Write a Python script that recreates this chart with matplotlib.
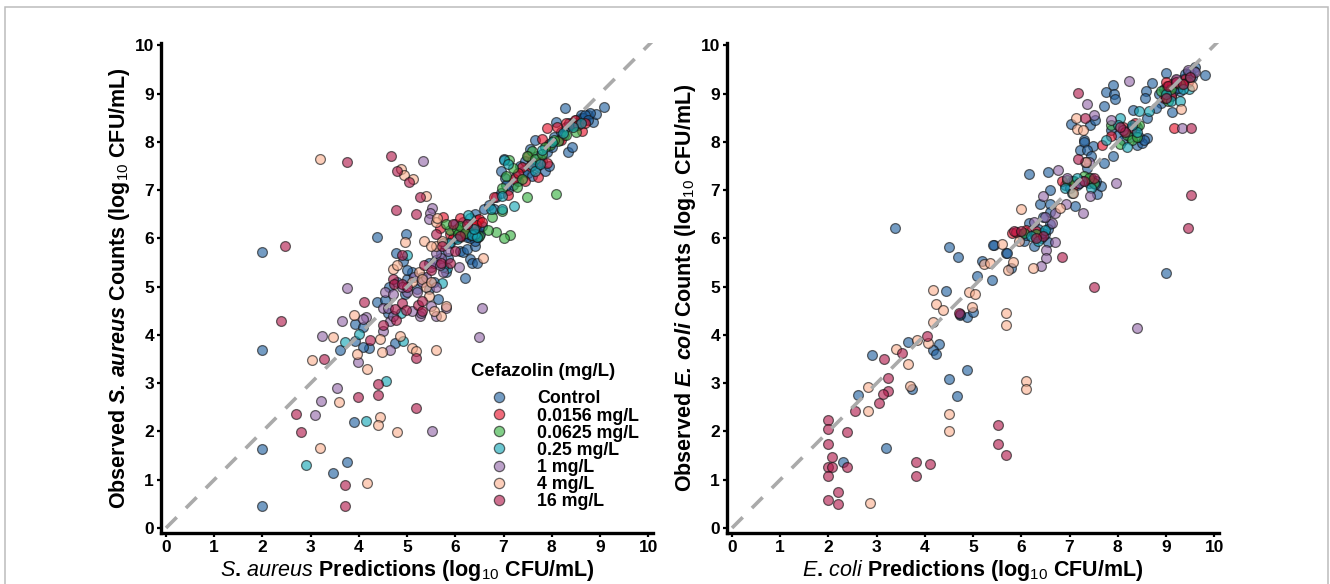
import matplotlib
matplotlib.use("Agg")
import matplotlib.pyplot as plt
from matplotlib.lines import Line2D
from matplotlib.patches import Rectangle

plt.rcParams['font.family'] = ['Liberation Sans', 'DejaVu Sans']
plt.rcParams['mathtext.fontset'] = 'custom'
plt.rcParams['mathtext.rm'] = 'Liberation Sans:bold'
plt.rcParams['mathtext.bf'] = 'Liberation Sans:bold'
plt.rcParams['mathtext.it'] = 'Liberation Sans:italic'
plt.rcParams['mathtext.bfit'] = 'Liberation Sans:italic:bold'
plt.rcParams['mathtext.cal'] = 'Liberation Sans'
plt.rcParams['mathtext.default'] = 'rm'

labels = ['Control', '0.0156 mg/L', '0.0625 mg/L', '0.25 mg/L', '1 mg/L', '4 mg/L', '16 mg/L']
colors = ['#1F5F9F', '#E8102A', '#35B040', '#12A5B5', '#9467A9', '#FBB090', '#B0184A']
legend_title = 'Cefazolin (mg/L)'
ticks = list(range(11))

aureus_control = [(2,3.69),(2,1.63),(2,.46),(2,5.72),(3.75,1.37),(3.46,1.13),(3.89,2.19),(3.61,3.68),(4.21,3.72),(4.08,3.76),(3.91,3.88),(3.91,4.23),(4.09,4.16),(4.75,3.83),(4.38,4.69),(4.61,4.45),(4.38,6.03),
 (4.62,5.0),(4.8,5.1),(5.0,5.15),(4.55,4.72),(4.95,4.85),(5.1,5.3),(5.2,4.95),(5.3,5.2),(4.78,5.7),(4.91,5.53),(4.97,6.09),(5.0,5.35),(5.45,5.5),(5.55,5.1),(5.6,5.55),(5.7,5.7),(5.65,4.75),(5.45,4.95),(5.8,5.3),(5.85,5.6),(5.9,5.9),(5.75,5.9),(6.0,6.0),(6.1,5.75),(6.2,5.18),(6.3,5.58),(6.35,5.5),(6.15,5.72),(6.25,5.78),(6.4,5.85),(6.45,5.5),(6.4,5.95),(6.1,6.1),(6.2,6.2),(6.3,6.15),(6.35,6.05),(6.5,6.2),(6.45,6.15),(6.0,6.3),(6.15,6.35),(6.4,6.5),(6.6,6.6),(6.7,6.7),(6.8,6.6),(6.95,7.39),(7.0,7.64),(7.03,7.25),(7.1,7.0),(7.2,7.1),(7.3,7.2),(7.4,7.4),(7.5,7.35),(7.6,7.3),(7.7,7.5),(7.8,7.6),(7.66,8.04),(7.85,7.4),(7.95,7.5),(8.05,8.1),(8.09,8.42),(8.33,7.8),(8.42,7.89),(8.2,8.2),(8.27,8.7),(8.3,8.3),(8.4,8.35),(8.5,8.45),(8.55,8.4),(8.6,8.5),(8.7,8.45),(8.75,8.55),(8.85,8.41),(8.92,8.58),(9.09,8.72),(8.8,8.6),(7.55,7.85),(6.22,6.08),(6.3,6.0),(6.38,6.12),
 (6.25,6.02),(6.28,6.1),(6.33,6.08),(6.42,6.08),(6.47,6.02),(6.52,6.1),(6.55,6.25),(6.85,6.85),(6.95,6.95),(7.05,7.1),(7.25,7.3),(7.35,7.5),(7.45,7.6),(7.6,7.6),(7.7,7.7),(7.9,7.8),(8.0,7.9),(8.15,8.05),(8.25,8.15),(8.35,8.4),(8.45,8.4),(8.5,8.35),(8.6,8.55),(8.65,8.5),(8.7,8.55),(8.75,8.45)]
aureus_r1 = [(7.9,8.28),(8.1,8.31),(7.72,7.27),(7.79,8.07),(7.38,7.49),(7.21,7.23),(7.1,6.9),(6.81,6.85),(6.44,6.39),(6.1,6.42),(5.68,6.22),(5.75,6.45),(6.1,6.03),(5.9,6.1),(8.3,8.39),(8.48,8.46),(8.62,8.23),(7.76,7.58),(7.9,7.56),(6.35,6.3),(6.5,6.4),(5.95,6.0),(7.55,7.5),(8.45,8.35),(7.45,7.2),(6.15,6.15),(6.25,6.25),(6.42,6.28),(6.55,6.35),(7.3,7.35),(7.5,7.7),(7.95,7.95),(8.2,8.05),(8.55,8.35),(8.7,8.4)]
aureus_g = [(8.09,6.93),(7.49,6.85),(7.14,6.08),(7.0,6.01),(6.84,6.14),(6.67,6.18),(6.76,6.45),(6.96,6.56),(6.96,7.04),(7.12,7.63),(7.59,7.81),(7.48,7.7),(8.14,8.01),(7.97,7.94),(7.39,7.24),(7.27,7.07),(5.89,6.18),(6.03,6.19),(5.81,6.3),(6.05,6.1),(6.5,6.05),(8.3,8.15),(8.5,8.2),(7.65,7.65),(7.85,7.9),(6.1,6.25),(6.2,6.12),(7.05,7.3),(7.2,7.45),(7.8,7.75),(8.05,8.05)]
aureus_t = [(2.9,1.3),(4.15,2.21),(4.56,3.04),(3.72,3.86),(4.0,4.03),(4.92,3.88),(4.87,4.46),(7.21,6.68),(5.73,5.08),(7.59,7.52),(6.31,6.42),(6.27,6.48),(6.41,6.1),(6.03,5.99),(5.86,5.9),(5.0,5.66),(6.96,6.87),(6.96,6.6),(7.79,7.84),(8.24,8.18),(8.6,8.39),(5.83,5.38),(5.75,5.41),(6.35,6.08),(7.65,7.4),(8.0,8.0),(6.75,6.6),(6.45,6.03),(6.38,6.2),(7.0,7.62),(7.1,7.55),(7.75,7.55),(8.45,8.3)]
aureus_p = [(3.24,3.97),(3.65,4.28),(3.55,2.9),(3.21,2.63),(3.1,2.34),(3.99,3.43),(4.5,4.09),(4.64,3.68),(4.15,4.37),(4.09,4.33),(4.5,4.55),(4.64,4.28),(5.27,4.39),(5.28,4.46),(5.51,2.02),(3.75,4.97),(4.6,4.55),(4.7,4.4),(5.1,4.5),(5.2,4.9),(5.3,5.1),(5.4,5.2),(5.5,5.4),(5.55,5.5),(5.6,5.0),(5.0,4.9),(4.9,5.0),(5.15,5.2),(5.75,5.3),(5.8,4.55),(6.55,4.55),(6.5,3.95),(5.6,4.4),(5.5,4.6),(5.7,5.6),(5.6,5.7),(5.85,5.75),(6.08,5.41),(5.51,6.64),(5.48,6.52),(5.45,6.4),(5.33,7.61),(4.55,4.9),(4.7,4.85),(5.68,5.45)]
aureus_q = [(3.03,3.48),(3.46,3.95),(3.59,2.62),(3.19,1.65),(4.16,.93),(3.97,3.61),(4.16,3.29),(3.9,4.41),(4.47,3.64),(4.43,3.92),(4.85,3.98),(5.11,3.72),(5.19,3.67),(4.43,2.3),(4.4,2.13),(4.8,1.99),(5.6,3.68),(3.2,7.65),(4.88,7.44),(4.94,7.31),(5.12,7.24),(5.39,6.88),(4.96,5.92),(5.35,5.95),(6.58,5.6),(4.71,5.36),(5.25,5.3),(5.3,5.15),(5.4,5.0),(5.5,5.1),(5.45,4.8),(5.7,4.4),(5.8,4.6),(5.1,5.1),(5.6,5.85),(5.72,5.95),(5.5,5.85),(4.8,5.45),(5.6,6.35),(5.62,6.42),(5.55,4.5)]
aureus_d = [(2.38,4.28),(3.27,3.51),(2.69,2.37),(2.79,1.99),(3.72,.89),(3.72,.45),(3.99,2.72),(4.4,2.76),(4.4,2.99),(5.19,2.48),(5.19,3.52),(4.24,3.89),(4.49,4.21),(4.78,4.31),(4.75,4.53),(4.1,4.69),(4.89,4.67),(5.23,4.62),(2.46,5.85),(3.75,7.58),(4.66,7.71),(4.79,7.4),(5.03,7.16),(5.27,6.85),(4.77,6.59),(5.18,6.5),(4.7,5.15),(4.72,5.05),(4.9,5.66),(4.98,4.52),(5.3,4.7),(5.3,4.5),(5.0,5.0),(5.5,5.35),(5.7,5.5),(5.9,5.5),(6.0,5.73),(5.72,5.84),(6.1,6.05),(5.6,6.1),(5.95,6.3),(6.25,6.3),(4.9,5.05),(5.35,5.45)]

coli_control = [(3.39,6.21),(4.51,5.83),(4.69,5.61),(5.43,5.86),(5.69,5.69),(5.19,5.54),(5.09,5.23),(5.4,5.13),(4.43,4.92),(4.73,4.41),(4.88,4.37),(5.0,4.48),(3.66,3.85),(4.3,3.82),(4.16,3.69),(4.24,3.61),(2.9,3.58),(2.61,2.76),(3.74,2.89),(4.51,3.08),(4.66,2.74),(4.87,3.28),(3.19,1.66),(2.3,1.36),(5.78,5.38),(4.72,4.43),(9.0,5.28),
 (7.9,9.18),(7.76,9.04),(7.93,9.0),(7.95,8.88),(7.72,8.75),(8.71,9.23),(8.59,9.06),(8.57,8.9),(8.32,8.66),(9.0,9.43),(9.82,9.39),(9.12,8.62),(7.91,7.7),(7.72,7.56),(7.03,8.37),(7.43,8.35),(7.53,8.46),(7.29,8.05),(7.31,8.0),(7.22,7.83),(7.48,7.92),(7.36,7.83),(7.45,7.7),(7.36,7.45),(6.16,7.34),(6.56,7.37),(6.6,7.0),(6.39,6.71),(6.6,6.71),(7.12,6.67),(7.57,6.92),(7.66,7.09),(5.42,5.86),(5.7,5.69),(6.15,6.32),(6.56,5.93),(6.26,5.85),(8.39,7.94),(8.61,8.09),(8.5,7.97),(6.0,6.1),(6.2,6.15),(6.35,6.2),(6.5,6.1),(6.6,6.3),(6.05,5.95),(6.4,6.0),(6.6,6.55),(6.45,6.45),(6.9,7.1),(7.05,7.2),(7.2,7.15),(7.45,7.25),(7.55,7.2),(7.85,8.25),(8.0,8.15),(8.2,8.2),(8.3,8.3),(8.45,8.1),(8.6,8.5),(8.85,9.0),(9.0,9.05),(9.2,9.2),(9.35,9.3),(9.45,9.45),(9.6,9.55),(9.1,8.95),(8.9,8.8),(9.3,9.05),(9.55,9.35),(8.8,8.7),
 (6.1,6.08),(6.28,6.05),(6.42,6.12),(6.55,6.2),(7.0,7.05),(7.15,7.1),(7.4,7.15),(7.52,7.12),(8.1,8.05),(8.25,8.1),(8.4,8.3),(8.55,8.05),(8.95,9.1),(9.05,9.12),(9.15,9.05),(9.25,9.12),(9.4,9.4),(9.5,9.42),(9.58,9.48)]
coli_r1 = [(9.17,8.29),(7.67,7.94),(5.8,6.12),(5.9,6.13),(6.1,6.18),(6.3,6.15),(6.85,7.2),(7.1,7.1),(7.45,7.2),(7.85,8.12),(8.1,8.3),(8.3,8.28),(9.02,9.15),(9.12,9.2),(9.25,9.22),(9.4,9.3),(8.95,8.9),(9.1,8.95),(9.45,9.25),(8.35,8.4),(9.0,9.25),(9.2,9.28),(9.35,9.2)]
coli_g = [(6.05,6.12),(6.3,6.1),(6.95,7.22),(7.1,7.2),(7.3,7.3),(7.5,7.15),(7.85,8.35),(8.2,8.15),(8.45,8.35),(8.3,8.05),(8.05,7.95),(9.0,8.9),(9.1,9.1),(9.3,9.2),(8.9,9.05),(7.4,7.25),(8.4,8.1),(9.05,8.85)]
coli_t = [(6.2,6.05),(6.5,6.18),(6.9,7.05),(7.05,6.95),(7.25,7.2),(7.45,7.05),(7.75,8.05),(8.05,8.5),(8.0,8.35),(8.2,7.9),(8.4,8.2),(8.45,8.65),(8.65,8.65),(9.1,8.85),(9.3,8.85),(9.47,9.09),(9.5,9.35),(9.35,9.1),(9.0,9.0),(7.15,7.25),(8.3,8.35),(6.35,5.95)]
coli_p = [(8.4,4.15),(8.24,9.27),(7.37,8.79),(7.5,8.56),(9.33,8.29),(7.96,7.14),(6.76,7.41),(6.94,7.25),(7.42,6.87),(6.44,6.88),(7.27,6.53),(6.7,6.52),(6.93,6.71),(6.7,5.92),(6.52,5.76),(6.52,5.59),(6.41,5.43),(7.4,7.59),(7.33,7.59),(6.63,6.32),(6.26,6.35),(7.85,8.45),(8.1,8.25),(9.45,9.5),(9.6,9.45),(9.2,9.3),(7.2,7.15),(6.5,6.45)]
coli_q = [(4.16,4.94),(4.23,4.64),(4.37,4.51),(4.16,4.26),(4.91,4.89),(5.04,4.85),(4.97,4.58),(5.23,5.48),(5.6,5.88),(5.72,5.35),(5.83,5.52),(5.68,4.46),(5.68,4.2),(3.83,3.89),(4.07,3.83),(3.41,3.71),(3.66,3.39),(2.83,2.92),(3.69,2.94),(2.83,2.42),(4.51,2.36),(4.51,2.0),(2.86,.52),(6.1,3.05),(6.1,2.87),(7.14,8.49),(7.15,8.27),(7.27,8.25),(6.0,6.61),(9.31,8.68),(7.08,6.94),(6.8,6.63),(6.25,5.38),(5.35,5.5),(7.35,7.59),(9.55,9.15),(5.95,5.95)]
coli_d = [(4.04,3.97),(3.53,3.62),(3.15,3.51),(3.23,3.11),(3.23,2.83),(3.14,2.78),(3.05,2.6),(2.55,2.42),(2.38,1.99),(2,2.23),(2,2.05),(2,1.73),(2.08,1.48),(2,1.26),(2.08,1.26),(2.38,1.26),(2,1.08),(2.2,.74),(2,.58),(2.2,.5),(3.81,1.36),(3.81,1.08),(4.1,1.32),(5.51,2.13),(5.51,1.73),(5.68,1.52),(4.71,4.45),(7.51,5.0),(9.45,6.22),(9.52,6.91),(9.52,8.29),(7.17,9.02),(7.33,8.5),(7.17,7.65),(6.85,5.62),(5.85,6.15),(6.0,6.15),(6.45,6.05),(6.3,6.0),(7.3,7.2),(7.5,7.25),(8.15,8.2),(9.0,8.9),(9.05,9.15),(9.2,9.25),(9.35,9.2),(9.5,9.35),(8.05,8.3)]

aureus = [aureus_control, aureus_r1, aureus_g, aureus_t, aureus_p, aureus_q, aureus_d]
coli = [coli_control, coli_r1, coli_g, coli_t, coli_p, coli_q, coli_d]

W, H = 1330, 584
fig = plt.figure(figsize=(W/100, H/100), dpi=100, facecolor='white')
fig.add_artist(Rectangle((4.5/W, -0.05), 1323/W, 1.05 - 6.5/H, transform=fig.transFigure,
                         fill=False, ec='#bcbcbc', lw=1.1))

def panel(left, series, xlab, ylab):
    ax = fig.add_axes([left/W, 1-533/H, 492/W, 490/H])
    for pts, c in zip(series, colors):
        ax.scatter([p[0] for p in pts], [p[1] for p in pts], s=50, facecolor=c, alpha=0.62,
                   edgecolor='#101010', linewidth=0.9, zorder=3, clip_on=False)
    ax.plot([0, 10.1], [0, 10.1], color='#aaaaaa', lw=2.6, ls=(0, (4.2, 3.6)), zorder=4)
    ax.set_xlim(-0.104, 10.1)
    ax.set_ylim(-0.104, 10.05)
    ax.set_xticks(ticks); ax.set_yticks(ticks)
    ax.set_xticklabels(ticks, fontweight='bold', fontsize=12.5)
    ax.set_yticklabels(ticks, fontweight='bold', fontsize=12.5)
    ax.tick_params(width=1.6, length=3, pad=2, color='black')
    for s in ('top', 'right'):
        ax.spines[s].set_visible(False)
    for s in ('left', 'bottom'):
        ax.spines[s].set_linewidth(2.4)
    ax.set_xlabel(xlab, fontsize=15.5, labelpad=2, fontweight='bold')
    ax.set_ylabel(ylab, fontsize=15.5, labelpad=2, fontweight='bold')
    return ax

sub = r'(log$_{\mathcal{10}}$ CFU/mL)'
ax1 = panel(161, aureus, r'$\mathit{S.\,aureus}$ Predictions ' + sub, r'Observed $\mathbfit{S.\,aureus}$ Counts ' + sub)
ax2 = panel(727, coli, r'$\mathit{E.\,coli}$ Predictions ' + sub, r'Observed $\mathbfit{E.\,coli}$ Counts ' + sub)

handles = [Line2D([], [], ls='', marker='o', ms=7.4, mfc=c, mec='#101010', mew=0.9, alpha=0.62) for c in colors]
leg = ax1.legend(handles, labels, frameon=False, loc='lower left',
                 bbox_to_anchor=(0.651, 0.047), bbox_transform=ax1.transAxes, handletextpad=1.13,
                 labelspacing=0.005, borderpad=0, borderaxespad=0,
                 prop={'weight': 'bold', 'size': 12.8})
fig.text(471/W, 1-372/H, legend_title, fontsize=13.4, fontweight='bold', ha='left', va='center')
fig.savefig('out.png', dpi=100)
